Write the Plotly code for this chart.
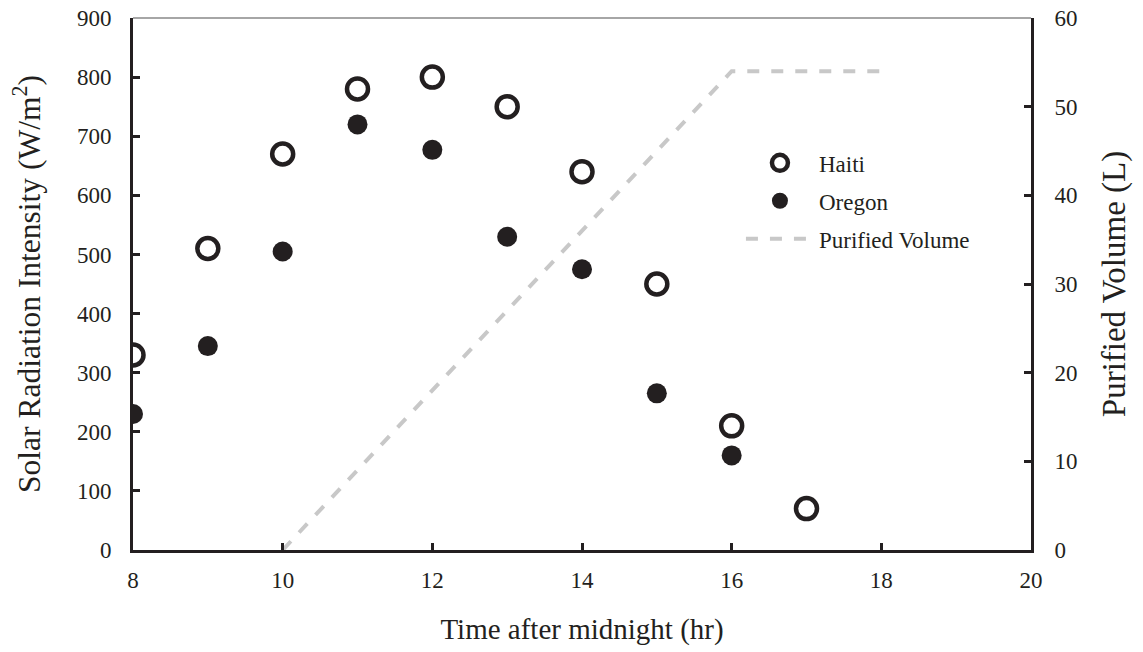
import plotly.graph_objects as go

hours_haiti = [8, 9, 10, 11, 12, 13, 14, 15, 16, 17]
haiti = [330, 510, 670, 780, 800, 750, 640, 450, 210, 70]
hours_oregon = [8, 9, 10, 11, 12, 13, 14, 15, 16]
oregon = [230, 345, 505, 720, 677, 530, 475, 265, 160]
hours_vol = [10, 16, 18]
volume = [0, 54, 54]

FONT = "Liberation Serif"
INK = "#231f20"
fig = go.Figure()
fig.add_trace(go.Scatter(x=hours_haiti, y=haiti, mode="markers", name="Haiti", legendgroup="a",
                         marker=dict(symbol="circle-open", size=21, color=INK,
                                     line=dict(width=4.5, color=INK))))
fig.add_trace(go.Scatter(x=hours_oregon, y=oregon, mode="markers", name="Oregon", legendgroup="b",
                         marker=dict(symbol="circle", size=20, color=INK)))
fig.add_trace(go.Scatter(x=hours_vol, y=volume, mode="lines", name="Purified Volume", legendgroup="c",
                         yaxis="y2", line=dict(color="#c8c8c8", width=4, dash="dash")))

axis_common = dict(showline=True, linecolor=INK, linewidth=3, ticks="inside",
                   ticklen=7, tickwidth=3, tickcolor=INK, showgrid=False, zeroline=False,
                   automargin=False,
                   tickfont=dict(family=FONT, size=23, color=INK))
fig.update_layout(
    width=1143, height=652, paper_bgcolor="white", plot_bgcolor="white",
    margin=dict(l=133, r=112, t=18, b=102),
    font=dict(family=FONT, color=INK),
    xaxis=dict(range=[8, 20], dtick=2, ticklabelstandoff=7,
               title=dict(text="Time after midnight (hr)", font=dict(family=FONT, size=29), standoff=28),
               **axis_common),
    yaxis=dict(range=[0, 900], dtick=100, ticklabelstandoff=14,
               title=dict(text="Solar Radiation Intensity (W/m<sup>2</sup>)", font=dict(family=FONT, size=31.5), standoff=27),
               **axis_common),
    yaxis2=dict(range=[0, 60], dtick=10, overlaying="y", side="right", ticklabelstandoff=16,
                title=dict(text="Purified Volume (L)", font=dict(family=FONT, size=33), standoff=26),
                **axis_common),
    legend=dict(x=0.677, y=0.768, xanchor="left", yanchor="top", bgcolor="rgba(0,0,0,0)",
                font=dict(family=FONT, size=23, color=INK), tracegroupgap=5,
                itemwidth=68),
    showlegend=True,
    shapes=[dict(type="line", xref="paper", yref="paper", x0=0, x1=1, y0=1, y1=1,
                 line=dict(color="#888888", width=1.5))],
)
fig.write_html("out.html")
